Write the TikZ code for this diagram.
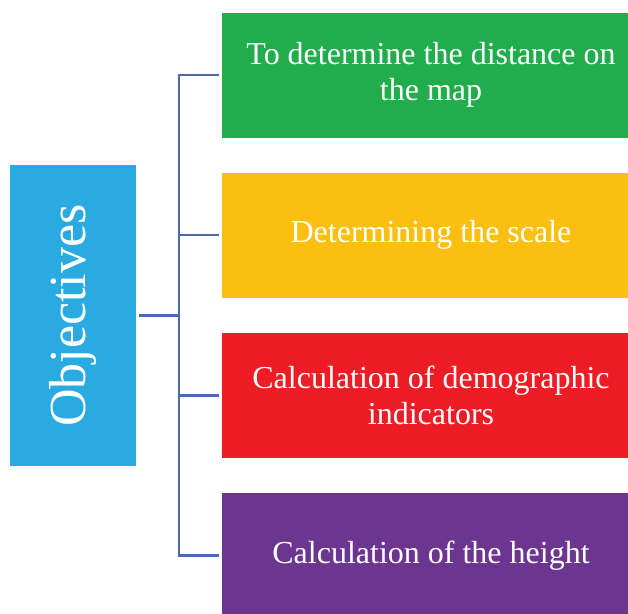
\documentclass[tikz,border=0pt]{standalone}
\usepackage{fontspec}
\usepackage{graphicx}
\setmainfont{Liberation Serif}
\definecolor{objblue}{HTML}{29ABE2}
\definecolor{ggreen}{HTML}{22AD4C}
\definecolor{gyellow}{HTML}{FBBF12}
\definecolor{gred}{HTML}{EE1C25}
\definecolor{gpurple}{HTML}{6C3590}
\definecolor{connblue}{HTML}{4A6AB3}
\begin{document}
\begin{tikzpicture}[x=1pt,y=-1pt,
  itembox/.style={rectangle, inner sep=0pt, minimum width=418pt, minimum height=125pt,
    text=white, align=center, font=\fontsize{32}{36}\selectfont},
  conn/.style={draw=connblue, line width=2.2pt},
]
\useasboundingbox (0,0) rectangle (628,613);
\clip (0,0) rectangle (628,613);
\node[rectangle, inner sep=0pt, minimum width=126pt, minimum height=301pt, fill=objblue,
  text=white, font=\fontsize{52}{56}\selectfont] (obj) at (73,315.5) {\rotatebox{90}{Objectives}};
\node[itembox, fill=ggreen] (g) at (431,75) {To determine the distance on\\the map};
\node[itembox, fill=gyellow] (yb) at (431,235) {Determining the scale};
\node[itembox, fill=gred] (r) at (431,395.5) {Calculation of demographic\\indicators};
\node[itembox, fill=gpurple] (p) at (431,555.5) {Calculation of the height};
\coordinate (bus) at (179,315.5);
\draw[conn, shorten <=3pt] (obj.east) -- (obj.east -| bus);
\draw[conn, shorten >=2.5pt] (g.west) ++(-2.5pt,0) -- (g.west -| bus) -- (p.west -| bus) -- (p.west);
\draw[conn, shorten >=2.5pt] (yb.west -| bus) -- (yb.west);
\draw[conn, shorten >=2.5pt] (r.west -| bus) -- (r.west);
\end{tikzpicture}
\end{document}
